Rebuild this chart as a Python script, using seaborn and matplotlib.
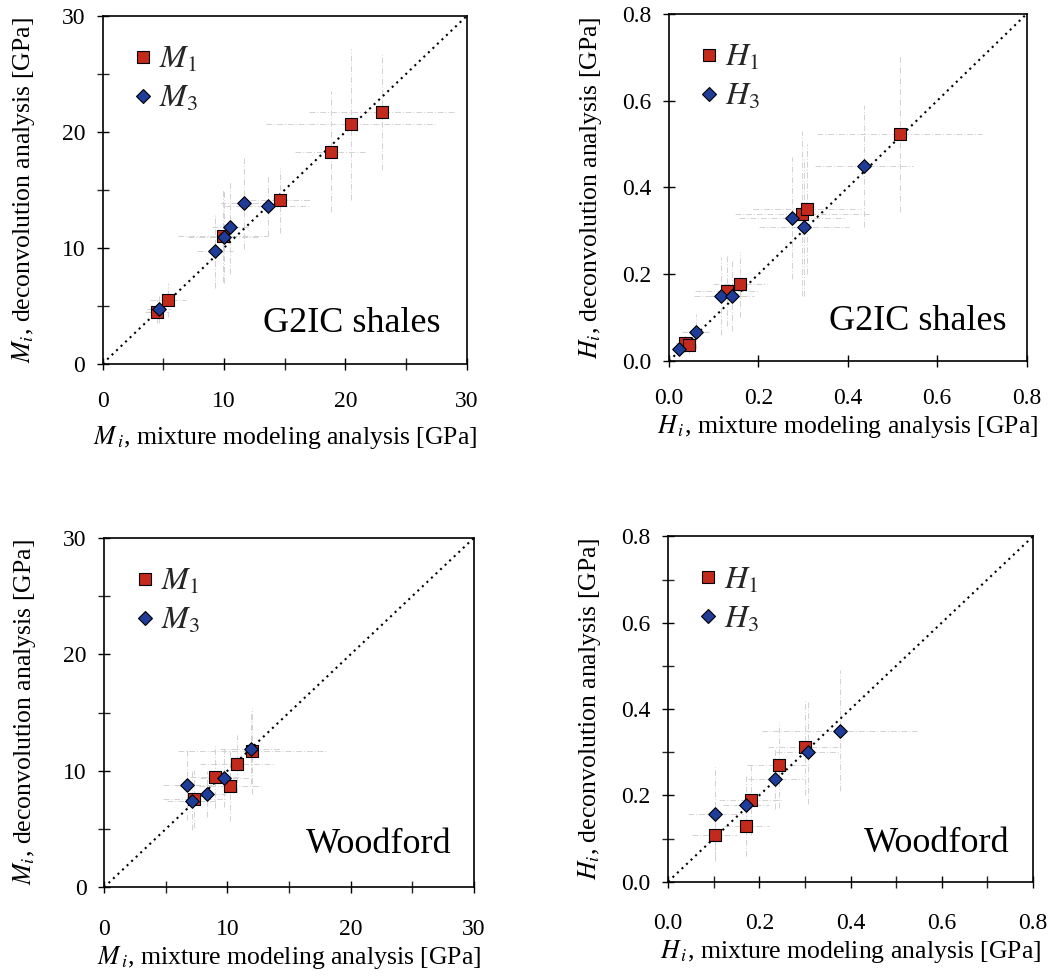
import matplotlib
matplotlib.use('Agg')
import matplotlib.pyplot as plt
import seaborn as sns
import pandas as pd
from matplotlib.ticker import MultipleLocator, FormatStrFormatter
from matplotlib.lines import Line2D

# ---------------- data ----------------
# G2IC shales, indentation modulus M [GPa]
g2ic_M1_x = [4.45, 5.36, 9.89, 14.62, 18.82, 20.45, 23.0]
g2ic_M1_y = [4.49, 5.50, 11.02, 14.12, 18.29, 20.66, 21.74]
g2ic_M1_xerr = [1.0, 1.5, 3.7, 2.5, 3.0, 7.0, 6.0]
g2ic_M1_yerr = [1.0, 1.5, 4.0, 2.8, 5.2, 6.5, 5.0]
g2ic_M3_x = [4.64, 9.26, 10.0, 10.49, 11.67, 13.6]
g2ic_M3_y = [4.69, 9.75, 10.96, 11.77, 13.84, 13.63]
g2ic_M3_xerr = [1.0, 1.5, 3.0, 1.5, 2.0, 3.5]
g2ic_M3_yerr = [1.2, 3.2, 4.0, 4.0, 3.9, 2.6]

# G2IC shales, hardness H [GPa]
g2ic_H1_x = [0.036, 0.045, 0.129, 0.159, 0.297, 0.309, 0.516]
g2ic_H1_y = [0.041, 0.038, 0.161, 0.177, 0.340, 0.350, 0.523]
g2ic_H1_xerr = [0.02, 0.02, 0.07, 0.06, 0.15, 0.12, 0.185]
g2ic_H1_yerr = [0.02, 0.02, 0.08, 0.075, 0.19, 0.15, 0.18]
g2ic_H3_x = [0.023, 0.060, 0.116, 0.140, 0.276, 0.302, 0.437]
g2ic_H3_y = [0.028, 0.068, 0.150, 0.150, 0.330, 0.310, 0.450]
g2ic_H3_xerr = [0.015, 0.03, 0.06, 0.05, 0.12, 0.10, 0.11]
g2ic_H3_yerr = [0.015, 0.04, 0.09, 0.08, 0.14, 0.16, 0.14]

# Woodford, M [GPa]
wood_M1_x = [7.32, 9.0, 10.2, 10.76, 11.97]
wood_M1_y = [7.55, 9.49, 8.70, 10.58, 11.73]
wood_M1_xerr = [2.5, 2.0, 2.5, 3.0, 6.0]
wood_M1_yerr = [2.5, 2.7, 3.0, 2.5, 3.7]
wood_M3_x = [6.76, 7.11, 8.38, 9.76, 11.92]
wood_M3_y = [8.78, 7.44, 8.01, 9.35, 11.85]
wood_M3_xerr = [2.0, 2.0, 1.5, 2.0, 2.5]
wood_M3_yerr = [3.0, 2.5, 2.0, 2.5, 3.0]

# Woodford, H [GPa]
wood_H1_x = [0.102, 0.172, 0.181, 0.243, 0.300]
wood_H1_y = [0.108, 0.129, 0.189, 0.270, 0.311]
wood_H1_xerr = [0.05, 0.05, 0.07, 0.07, 0.08]
wood_H1_yerr = [0.05, 0.07, 0.08, 0.10, 0.11]
wood_H3_x = [0.104, 0.171, 0.235, 0.306, 0.376]
wood_H3_y = [0.158, 0.178, 0.239, 0.300, 0.350]
wood_H3_xerr = [0.06, 0.05, 0.06, 0.07, 0.17]
wood_H3_yerr = [0.11, 0.07, 0.07, 0.12, 0.14]

panel_names = ["G2IC shales", "G2IC shales", "Woodford", "Woodford"]

# ---------------- style ----------------
sns.set_theme(style='white')
plt.rcParams['font.family'] = ['Liberation Serif', 'DejaVu Serif']
plt.rcParams['mathtext.fontset'] = 'stix'

RED = '#C42A1C'
BLUE = '#1F3C99'
ERRC = '#d2d2d2'

fig = plt.figure(figsize=(10.53, 9.77), dpi=100)
positions = [
    [0.0975, 0.6277, 0.3457, 0.3559],
    [0.6353, 0.6305, 0.3396, 0.3552],
    [0.0988, 0.0918, 0.3514, 0.3578],
    [0.6344, 0.0975, 0.3466, 0.3535],
]
text_pos = [(0.927, 0.092), (0.944, 0.089), (0.94, 0.097), (0.937, 0.087)]
xtick_pad = [15, 15, 18, 18]
xlabel_pad = [9, 3, 3, 3]
ylabel_pad = [18, 13, 18, 13]

panels = [
    dict(kind='M', s1=(g2ic_M1_x, g2ic_M1_y, g2ic_M1_xerr, g2ic_M1_yerr),
         s3=(g2ic_M3_x, g2ic_M3_y, g2ic_M3_xerr, g2ic_M3_yerr)),
    dict(kind='H', s1=(g2ic_H1_x, g2ic_H1_y, g2ic_H1_xerr, g2ic_H1_yerr),
         s3=(g2ic_H3_x, g2ic_H3_y, g2ic_H3_xerr, g2ic_H3_yerr)),
    dict(kind='M', s1=(wood_M1_x, wood_M1_y, wood_M1_xerr, wood_M1_yerr),
         s3=(wood_M3_x, wood_M3_y, wood_M3_xerr, wood_M3_yerr)),
    dict(kind='H', s1=(wood_H1_x, wood_H1_y, wood_H1_xerr, wood_H1_yerr),
         s3=(wood_H3_x, wood_H3_y, wood_H3_xerr, wood_H3_yerr)),
]

for i, p in enumerate(panels):
    ax = fig.add_axes(positions[i])
    k = p['kind']
    lim = 30 if k == 'M' else 0.8
    # error bars
    for (x, y, xe, ye) in (p['s1'], p['s3']):
        eb = ax.errorbar(x, y, xerr=xe, yerr=ye, fmt='none', ecolor=ERRC,
                         elinewidth=0.7, capsize=0, zorder=1)
        for c in eb[2]:
            c.set_linestyle((0, (6, 2, 1, 2)))
    # 1:1 line
    ax.plot([0, lim], [0, lim], ls=(0, (1, 2)), color='black', lw=1.5, zorder=2)
    # markers
    x1, y1, _, _ = p['s1']
    x3, y3, _, _ = p['s3']
    df1 = pd.DataFrame({'x': x1, 'y': y1})
    df3 = pd.DataFrame({'x': x3, 'y': y3})
    sns.scatterplot(data=df1, x='x', y='y', ax=ax, marker='s', s=72,
                    color=RED, edgecolor='black', linewidth=0.8, zorder=3)
    sns.scatterplot(data=df3, x='x', y='y', ax=ax, marker='D', s=48,
                    color=BLUE, edgecolor='black', linewidth=0.8, zorder=4)
    ax.set_xlim(0, lim)
    ax.set_ylim(0, lim)
    if k == 'M':
        ax.xaxis.set_major_locator(MultipleLocator(10))
        ax.yaxis.set_major_locator(MultipleLocator(10))
        ax.xaxis.set_minor_locator(MultipleLocator(5))
        ax.yaxis.set_minor_locator(MultipleLocator(5))
        ax.xaxis.set_major_formatter(FormatStrFormatter('%d'))
        ax.yaxis.set_major_formatter(FormatStrFormatter('%d'))
    else:
        ax.xaxis.set_major_locator(MultipleLocator(0.2))
        ax.yaxis.set_major_locator(MultipleLocator(0.2))
        ax.xaxis.set_major_formatter(FormatStrFormatter('%.1f'))
        ax.yaxis.set_major_formatter(FormatStrFormatter('%.1f'))
        if i == 3:
            ax.xaxis.set_minor_locator(MultipleLocator(0.1))
            ax.yaxis.set_minor_locator(MultipleLocator(0.1))
    ax.tick_params(which='major', direction='inout', length=9, width=1.0,
                   labelsize=17, colors='black')
    ax.tick_params(which='minor', direction='inout', length=9, width=1.0)
    ax.tick_params(axis='x', which='major', pad=xtick_pad[i])
    ax.tick_params(axis='y', which='major', pad=8)
    ax.tick_params(which='both', bottom=True, left=True, top=False, right=False)
    for sp in ax.spines.values():
        sp.set_color('black')
        sp.set_linewidth(1.2)
    sym = 'M' if k == 'M' else 'H'
    ax.set_xlabel(f'${sym}_{{\\,i}}$, mixture modeling analysis [GPa]',
                  fontsize=18.5, labelpad=xlabel_pad[i], color='black')
    ax.set_ylabel(f'${sym}_i$, deconvolution analysis [GPa]',
                  fontsize=18.5, labelpad=ylabel_pad[i], color='black')
    ax.text(text_pos[i][0], text_pos[i][1], panel_names[i], transform=ax.transAxes,
            ha='right', va='baseline', fontsize=26, color='black')
    handles = [
        Line2D([], [], ls='none', marker='s', markersize=9, markerfacecolor=RED,
               markeredgecolor='black', markeredgewidth=0.8),
        Line2D([], [], ls='none', marker='D', markersize=7, markerfacecolor=BLUE,
               markeredgecolor='black', markeredgewidth=0.8),
    ]
    ax.legend(handles, [f'${sym}_1$', f'${sym}_3$'], loc='upper left',
              bbox_to_anchor=(0.049, 0.951), frameon=False, fontsize=23,
              handletextpad=0.2, handlelength=0.6, labelspacing=0.3,
              borderaxespad=0.0)

fig.savefig('out.png', dpi=100)
